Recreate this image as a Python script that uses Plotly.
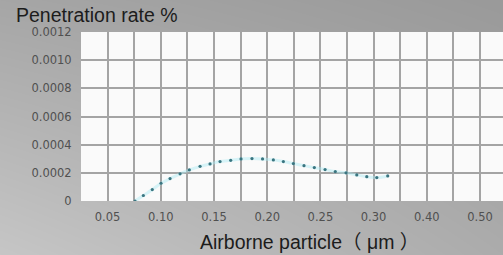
import base64, struct, zlib
import numpy as np
import plotly.graph_objects as go

# ---- data ----
particle_um = [0.0758, 0.0836, 0.0920, 0.1002, 0.1087, 0.1181, 0.1268, 0.1369, 0.1463,
               0.1557, 0.1657, 0.1754, 0.1857, 0.1956, 0.2058, 0.2152, 0.2246, 0.2346,
               0.2443, 0.2544, 0.2640, 0.2741, 0.2842, 0.2936, 0.3030, 0.3133]
penetration = [0.0000, 0.000039, 0.000081, 0.000126, 0.000159, 0.000193, 0.000221, 0.000246,
               0.000263, 0.000280, 0.000289, 0.000299, 0.000301, 0.000299, 0.000292, 0.000280,
               0.000266, 0.000251, 0.000237, 0.000223, 0.000209, 0.000200, 0.000185, 0.000173,
               0.000166, 0.000178]
x_tick_vals = [0.05, 0.10, 0.15, 0.20, 0.25, 0.30, 0.35, 0.40]
x_tick_text = ["0.05", "0.10", "0.15", "0.20", "0.25", "0.30", "0.40", "0.50"]
y_tick_vals = [0, 0.0002, 0.0004, 0.0006, 0.0008, 0.0010, 0.0012]
y_tick_text = ["0", "0.0002", "0.0004", "0.0006", "0.0008", "0.0010", "0.0012"]

W, H = 503, 255
ML, MR, MT, MB = 81, 0, 32, 54
PW, PH = W - ML - MR, H - MT - MB


def gradient_png(w, h):
    xs = np.linspace(0, 1, w)[None, :]
    ys = np.linspace(0, 1, h)[:, None]
    tl, tr, bl, br = 166, 154, 198, 172
    v = tl * (1 - xs) * (1 - ys) + tr * xs * (1 - ys) + bl * (1 - xs) * ys + br * xs * ys
    arr = np.clip(v, 0, 255).astype(np.uint8)
    arr = np.repeat(arr[:, :, None], 3, axis=2)
    raw = b"".join(b"\x00" + arr[r].tobytes() for r in range(h))

    def chunk(t, d):
        c = struct.pack(">I", len(d)) + t + d
        return c + struct.pack(">I", zlib.crc32(t + d) & 0xffffffff)

    png = b"\x89PNG\r\n\x1a\n" + chunk(b"IHDR", struct.pack(">IIBBBBB", w, h, 8, 2, 0, 0, 0)) \
        + chunk(b"IDAT", zlib.compress(raw, 9)) + chunk(b"IEND", b"")
    return "data:image/png;base64," + base64.b64encode(png).decode()


fig = go.Figure()
fig.add_trace(go.Scatter(x=particle_um, y=penetration, mode="lines",
                         line=dict(color="rgba(170,235,245,0.45)", width=3, shape="spline"),
                         hoverinfo="skip", showlegend=False))
fig.add_trace(go.Scatter(x=particle_um, y=penetration, mode="markers",
                         marker=dict(color="#3a7580", size=3.2), showlegend=False))

x_hi = 0.025 + PW * 0.025 / 26.6
grid_c = "#a4a4a4"
fig.update_xaxes(range=[0.025, x_hi], tickvals=x_tick_vals, ticktext=x_tick_text,
                 showgrid=True, gridcolor=grid_c, gridwidth=1.6, zeroline=False, showline=False,
                 ticks="outside", ticklen=5, tickcolor="rgba(0,0,0,0)",
                 tickfont=dict(family="DejaVu Sans", size=11.5, color="#505050"),
                 minor=dict(tick0=0.025, dtick=0.025, showgrid=True, gridcolor=grid_c, gridwidth=1.6))
fig.update_yaxes(range=[0, 0.0012], tickvals=y_tick_vals, ticktext=y_tick_text,
                 showgrid=True, gridcolor=grid_c, gridwidth=1.6, zeroline=False, showline=False,
                 ticks="outside", ticklen=6, tickcolor="rgba(0,0,0,0)",
                 tickfont=dict(family="DejaVu Sans", size=11.5, color="#505050"))

fig.add_annotation(text="Penetration rate %", xref="paper", yref="paper",
                   x=(15 - ML) / PW, y=(PH + MT - 14.5) / PH, xanchor="left", yanchor="middle",
                   showarrow=False, borderpad=0,
                   font=dict(family="Liberation Sans", size=19.5, color="#1c1c1c"))
fig.add_annotation(text="Airborne particle（ μm ）", xref="paper", yref="paper",
                   x=(309 - ML) / PW, y=(PH + MT - 242) / PH, xanchor="center", yanchor="middle",
                   showarrow=False, borderpad=0,
                   font=dict(family="Liberation Sans, Noto Sans CJK SC", size=19.5, color="#1c1c1c"))

fig.add_shape(type="rect", xref="paper", yref="paper", x0=0, x1=1, y0=0, y1=1,
              fillcolor="#fafafa", line=dict(width=0), layer="below")

fig.update_layout(
    width=W, height=H, margin=dict(l=ML, r=MR, t=MT, b=MB, pad=0),
    paper_bgcolor="#b0b0b0", plot_bgcolor="#fafafa",
    images=[dict(source=gradient_png(W, H), xref="paper", yref="paper",
                 x=-ML / PW, y=(PH + MT) / PH, sizex=W / PW, sizey=H / PH,
                 xanchor="left", yanchor="top", sizing="stretch", layer="below")],
    showlegend=False,
)
fig.write_html("out.html", config={"displayModeBar": False},
               post_script=["document.body.style.margin='0';document.body.style.overflow='hidden';"])
